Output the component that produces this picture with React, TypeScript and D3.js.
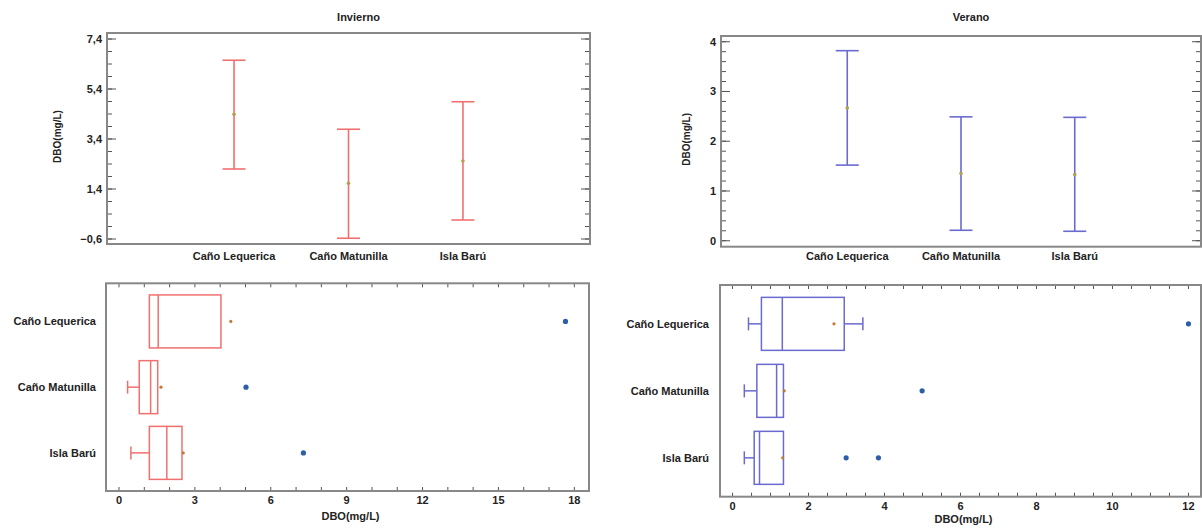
import React from 'react';
import * as d3 from 'd3';

const categories = ['Caño Lequerica', 'Caño Matunilla', 'Isla Barú'];

// intervalos de la media (arriba)
const winterMean = [4.39, 1.63, 2.52];
const winterLow = [2.2, -0.57, 0.16];
const winterHigh = [6.55, 3.79, 4.89];
const summerMean = [2.67, 1.35, 1.33];
const summerLow = [1.52, 0.21, 0.19];
const summerHigh = [3.82, 2.49, 2.48];

// cajas y bigotes (abajo)
const winterWhiskerLow = [1.2, 0.34, 0.47];
const winterQ1 = [1.2, 0.8, 1.2];
const winterMedian = [1.55, 1.25, 1.89];
const winterQ3 = [4.03, 1.53, 2.49];
const winterWhiskerHigh = [4.03, 1.53, 2.49];
const winterBoxMean = [4.42, 1.66, 2.54];
const winterOutliers = [[17.65], [5.02], [7.29]];

const summerWhiskerLow = [0.42, 0.31, 0.31];
const summerQ1 = [0.76, 0.64, 0.57];
const summerMedian = [1.31, 1.16, 0.71];
const summerQ3 = [2.94, 1.34, 1.34];
const summerWhiskerHigh = [3.43, 1.34, 1.34];
const summerBoxMean = [2.67, 1.36, 1.32];
const summerOutliers = [[12.0], [4.99], [2.99, 3.84]];

const winterTicks = [-0.6, 1.4, 3.4, 5.4, 7.4];
const summerTicks = [0, 1, 2, 3, 4];
const winterBoxTicks = [0, 3, 6, 9, 12, 15, 18];
const summerBoxTicks = [0, 2, 4, 6, 8, 10, 12];

const RED = '#f07070';
const BLUE = '#6a6ad0';
const FONT = '"Liberation Sans", Arial, sans-serif';
const fmt = (v: number) => d3.format('.1f')(v).replace('.', ',');

const txt = { fontFamily: FONT, fontSize: 11, fontWeight: 700, fill: '#222' } as const;

function IntervalPlot({ title, frame, domain, ticks, minorStep, tickFmt, mean, low, high, color, labelX }: any) {
  const [x0, y0, x1, y1] = frame;
  const y = d3.scaleLinear().domain(domain).range([y1, y0]);
  const x = d3.scalePoint<string>().domain(categories).range([x0, x1]).padding(1.11);
  const minor = d3.range(ticks[0] - minorStep * 3, domain[1], minorStep)
    .filter(v => v > domain[0] && v < domain[1]);
  return (
    <g>
      <text x={(x0 + x1) / 2 + 10} y={21} textAnchor="middle" {...txt}>{title}</text>
      {minor.map((v, i) => (
        <g key={'m' + i} stroke="#555" strokeWidth={1}>
          <line x1={x0} x2={x0 + 5} y1={y(v)} y2={y(v)} />
          <line x1={x1} x2={x1 - 5} y1={y(v)} y2={y(v)} />
        </g>
      ))}
      {ticks.map((v: number) => (
        <g key={v}>
          <line x1={x0} x2={x0 + 9} y1={y(v)} y2={y(v)} stroke="#555" />
          <line x1={x1} x2={x1 - 9} y1={y(v)} y2={y(v)} stroke="#555" />
          <text x={x0 - 5} y={y(v) + 4} textAnchor="end" {...txt}>{tickFmt(v)}</text>
        </g>
      ))}
      <rect x={x0} y={y0} width={x1 - x0} height={y1 - y0} fill="none" stroke="#888" strokeWidth={2} />
      <text transform={`translate(${labelX},${(y0 + y1) / 2 - 2}) rotate(-90)`} textAnchor="middle" {...txt} fontSize={10}>DBO(mg/L)</text>
      {categories.map((c, i) => {
        const cx = x(c)!;
        return (
          <g key={c}>
            <line x1={cx} x2={cx} y1={y(low[i])} y2={y(high[i])} stroke={color} strokeWidth={1.6} />
            <line x1={cx - 11.5} x2={cx + 11.5} y1={y(low[i])} y2={y(low[i])} stroke={color} strokeWidth={1.6} />
            <line x1={cx - 11.5} x2={cx + 11.5} y1={y(high[i])} y2={y(high[i])} stroke={color} strokeWidth={1.6} />
            <circle cx={cx} cy={y(mean[i])} r={1.8} fill="#b0a050" />
            <text x={cx} y={260} textAnchor="middle" {...txt}>{c}</text>
          </g>
        );
      })}
    </g>
  );
}

function BoxPlot({ frame, domain, ticks, minorStep, wLow, q1, med, q3, wHigh, mean, outliers, color, labelX, tickY, titleY }: any) {
  const [x0, y0, x1, y1] = frame;
  const x = d3.scaleLinear().domain(domain).range([x0, x1]);
  const y = d3.scalePoint<string>().domain(categories).range([y0, y1]).padding(0.58);
  const minor = d3.range(0, domain[1], minorStep);
  const h = 53;
  return (
    <g>
      {minor.map((v, i) => (
        <g key={'m' + i} stroke="#555">
          <line x1={x(v)} x2={x(v)} y1={y0} y2={y0 + 4} />
          <line x1={x(v)} x2={x(v)} y1={y1} y2={y1 - 4} />
        </g>
      ))}
      {ticks.map((v: number) => (
        <text key={v} x={x(v)} y={tickY} textAnchor="middle" {...txt}>{v}</text>
      ))}
      <rect x={x0} y={y0} width={x1 - x0} height={y1 - y0} fill="none" stroke="#888" strokeWidth={2} />
      <text x={(x0 + x1) / 2 + 3} y={titleY} textAnchor="middle" {...txt}>DBO(mg/L)</text>
      {categories.map((c, i) => {
        const cy = y(c)!;
        return (
          <g key={c}>
            <text x={labelX} y={cy + 4} textAnchor="end" {...txt}>{c}</text>
            <g stroke={color} strokeWidth={1.5} fill="none">
              {wLow[i] < q1[i] && (
                <>
                  <line x1={x(wLow[i])} x2={x(q1[i])} y1={cy} y2={cy} />
                  <line x1={x(wLow[i])} x2={x(wLow[i])} y1={cy - 6.5} y2={cy + 6.5} />
                </>
              )}
              {wHigh[i] > q3[i] && (
                <>
                  <line x1={x(q3[i])} x2={x(wHigh[i])} y1={cy} y2={cy} />
                  <line x1={x(wHigh[i])} x2={x(wHigh[i])} y1={cy - 6.5} y2={cy + 6.5} />
                </>
              )}
              <rect x={x(q1[i])} y={cy - h / 2} width={x(q3[i]) - x(q1[i])} height={h} />
              <line x1={x(med[i])} x2={x(med[i])} y1={cy - h / 2} y2={cy + h / 2} />
            </g>
            <circle cx={x(mean[i])} cy={cy} r={1.6} fill="#c07a3a" />
            {outliers[i].map((o: number, j: number) => (
              <circle key={j} cx={x(o)} cy={cy} r={2.6} fill="#2d5fa8" />
            ))}
          </g>
        );
      })}
    </g>
  );
}

export default function App() {
  return (
    <svg width={1202} height={528} style={{ position: 'absolute', left: 0, top: 0, background: '#fff' }}>
      <IntervalPlot title="Invierno" frame={[107, 33, 590, 244]} domain={[-0.8, 7.64]} ticks={winterTicks}
        minorStep={0.5} tickFmt={fmt} mean={winterMean} low={winterLow} high={winterHigh} color={RED} labelX={61} />
      <IntervalPlot title="Verano" frame={[721, 36, 1201, 246.7]} domain={[-0.12, 4.115]} ticks={summerTicks}
        minorStep={0.2} tickFmt={(v: number) => String(v)} mean={summerMean} low={summerLow} high={summerHigh} color={BLUE} labelX={690} />
      <BoxPlot frame={[106, 283.3, 589, 491]} domain={[-0.514, 18.58]} ticks={winterBoxTicks} minorStep={1}
        wLow={winterWhiskerLow} q1={winterQ1} med={winterMedian} q3={winterQ3} wHigh={winterWhiskerHigh}
        mean={winterBoxMean} outliers={winterOutliers} color={RED} labelX={96} tickY={504} titleY={520} />
      <BoxPlot frame={[720, 285, 1201, 496.7]} domain={[-0.33, 12.33]} ticks={summerBoxTicks} minorStep={0.5}
        wLow={summerWhiskerLow} q1={summerQ1} med={summerMedian} q3={summerQ3} wHigh={summerWhiskerHigh}
        mean={summerBoxMean} outliers={summerOutliers} color={BLUE} labelX={709} tickY={510} titleY={523} />
    </svg>
  );
}
